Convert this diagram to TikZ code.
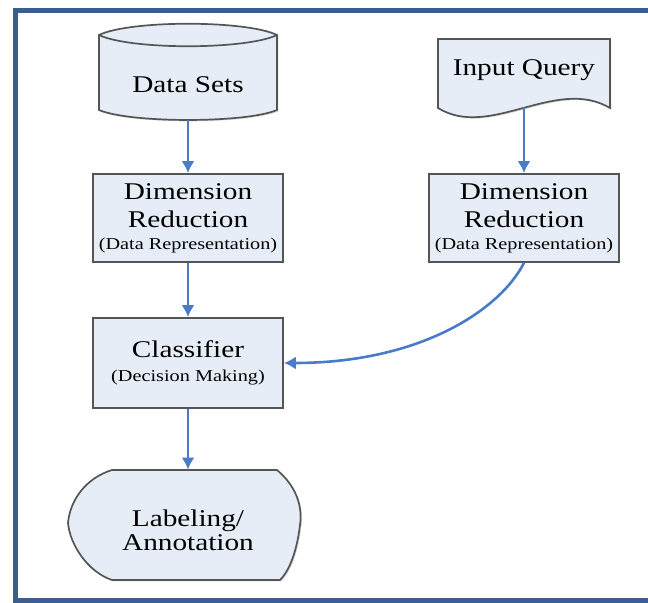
\documentclass[tikz,border=0pt]{standalone}
\usepackage{fontspec}
\newfontfamily\boxfont[FakeStretch=1.22]{Liberation Serif}
\usetikzlibrary{arrows.meta, shadows}
\definecolor{cfill}{HTML}{E7EDF7}
\definecolor{cline}{HTML}{555555}
\definecolor{carrow}{HTML}{4A7BC8}
\definecolor{cframe}{HTML}{3A5F8E}
\newcommand{\smalltxt}[1]{{\fontsize{8.3}{10}\selectfont #1}}
\tikzset{
  every picture/.style={font=\boxfont\fontsize{12}{14}\selectfont},
  outline/.style={draw=cline, fill=cfill, line width=0.85pt,
    drop shadow={shadow xshift=0.7pt, shadow yshift=-0.7pt, opacity=0.3}},
  box/.style={outline, minimum width=95pt, minimum height=44pt, inner sep=0pt, align=center},
  txt/.style={inner sep=0pt, align=center},
  arrow/.style={-{Latex[length=6pt, width=6.5pt]}, draw=carrow, line width=1.3pt},
}

\begin{document}
\begin{tikzpicture}[x=0.5pt, y=-0.5pt]
  \useasboundingbox (0,0) rectangle (648,603);
  \draw[cframe, line width=2.5pt] (15,11) rectangle (700,601);
  % shapes that are not plain boxes
  \path[outline] (99,35) .. controls (130,20) and (246,20) .. (277,35) -- (277,110)
    .. controls (246,123.3) and (130,123.3) .. (99,110) -- cycle;
  \draw[cline, line width=0.85pt] (99,35) .. controls (130,50) and (246,50) .. (277,35);
  \path[outline] (438,39) -- (610,39) -- (610,108)
    .. controls (556,76) and (490,140) .. (438,108) -- cycle;
  \path[outline] (112,470) -- (277,470) .. controls (295,485) and (303,505) .. (300,525)
    .. controls (297,550) and (290,570) .. (280,580) -- (112,580)
    .. controls (88,572) and (70,545) .. (68,523) .. controls (70,500) and (86,478) .. (112,470) -- cycle;
  \node[txt, minimum height=35pt] (ds) at (188,85) {Data Sets};
  \node[txt, minimum height=37pt] (iq) at (524,70) {Input Query};
  \node[box] (dr1) at (188,218) {Dimension\\Reduction\\[-3pt]\smalltxt{(Data Representation)}};
  \node[box] (dr2) at (524,218) {Dimension\\Reduction\\[-3pt]\smalltxt{(Data Representation)}};
  \node[box, minimum height=45pt] (cl) at (188,363) {Classifier\\[-2pt]\smalltxt{(Decision Making)}};
  \node[txt, minimum height=60pt] (lab) at (188,530) {Labeling/\\[-2pt]Annotation};
  \draw[arrow] (ds) -- (dr1);
  \draw[arrow] (dr1) -- (cl);
  \draw[arrow] (cl) -- (lab);
  \draw[arrow] (iq) -- (dr2);
  \draw[arrow] (dr2.south) .. controls (500,310) and (420,363) .. (cl.east);
\end{tikzpicture}
\end{document}
